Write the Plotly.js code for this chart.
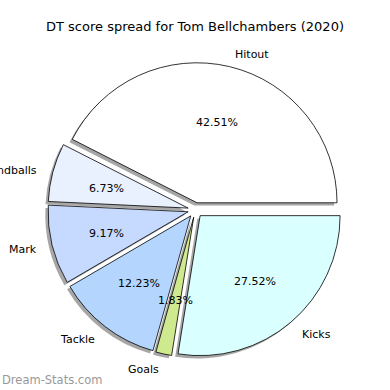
<!DOCTYPE html>
<html>
<head>
<meta charset="utf-8">
<script src="https://cdn.plot.ly/plotly-3.0.1.min.js"></script>
<style>html,body{margin:0;padding:0;background:#fff}#chart{width:390px;height:390px}</style>
</head>
<body>
<div id="chart"></div>
<script>
const categories = ["Hitout", "Handballs", "Mark", "Tackle", "Goals", "Kicks"];
const shares = [42.51, 6.73, 9.17, 12.23, 1.83, 27.52];
const sliceColors = ["#ffffff", "#e9f0fe", "#c6d9fe", "#b3d5fe", "#cfe98f", "#d9ffff"];
const chartTitle = "DT score spread for Tom Bellchambers (2020)";
const watermark = "Dream-Stats.com";

const W = 390, H = 390;
const cx = 195.3, cy = 210, R = 140, pullFrac = 0.053;
const font = "DejaVu Sans, sans-serif";
const total = shares.reduce((a, b) => a + b, 0);

function dom(cxp, cyp, r, pull) {
  const half = r * (1 + pull);
  return {
    x: [(cxp - half) / W, (cxp + half) / W],
    y: [1 - (cyp + half) / H, 1 - (cyp - half) / H]
  };
}
const pulls = categories.map(() => pullFrac);
// first slice starts at 3 o'clock and runs counterclockwise (matplotlib startangle 0)
const rot = 90 - shares[0] / total * 360;
const common = {
  type: "pie", values: shares, labels: categories, sort: false,
  direction: "counterclockwise", rotation: rot, pull: pulls,
  hoverinfo: "skip", showlegend: false, textinfo: "none"
};
const shadow = Object.assign({}, common, {
  domain: dom(cx - 2.8, cy + 2.8, R, pullFrac),
  marker: {colors: categories.map(() => "rgba(77,77,77,0.5)"), line: {width: 0}}
});
const main = Object.assign({}, common, {
  domain: dom(cx, cy, R, pullFrac),
  marker: {colors: sliceColors, line: {color: "#000", width: 0.8}}
});

// label and percentage text, placed like matplotlib's pie (labeldistance 1.1, pctdistance 0.6)
const annotations = [];
let acc = 0;
shares.forEach((v, i) => {
  const th = (acc + v / 2) / total * 2 * Math.PI;
  acc += v;
  const c = Math.cos(th), s = Math.sin(th);
  const off = pullFrac * R;
  const lx = cx + (off + 1.1 * R) * c, ly = cy - (off + 1.1 * R) * s;
  annotations.push({text: categories[i], xref: "paper", yref: "paper",
    x: lx / W, y: 1 - ly / H, xanchor: c > 0 ? "left" : "right", yanchor: "middle",
    yshift: -1.5, showarrow: false, font: {family: font, size: 11, color: "#000"}});
  const px = cx + (off + 0.6 * R) * c, py = cy - (off + 0.6 * R) * s;
  annotations.push({text: v.toFixed(2) + "%", xref: "paper", yref: "paper",
    x: px / W, y: 1 - py / H, xanchor: "center", yanchor: "middle",
    yshift: -1.5, showarrow: false, font: {family: font, size: 11, color: "#000"}});
});
annotations.push({text: watermark, xref: "paper", yref: "paper", x: 0, y: 1 - 380 / H,
  xanchor: "left", yanchor: "middle", showarrow: false,
  font: {family: font, size: 11.5, color: "#999"}});

const layout = {
  width: W, height: H, margin: {l: 0, r: 0, t: 0, b: 0},
  paper_bgcolor: "#fff", plot_bgcolor: "#fff",
  title: {text: chartTitle, x: 0.5, xanchor: "center", y: 1 - 26 / H, yanchor: "middle",
          font: {family: font, size: 13, color: "#000"}},
  annotations: annotations
};
Plotly.newPlot("chart", [shadow, main], layout, {staticPlot: true});
</script>
</body>
</html>
